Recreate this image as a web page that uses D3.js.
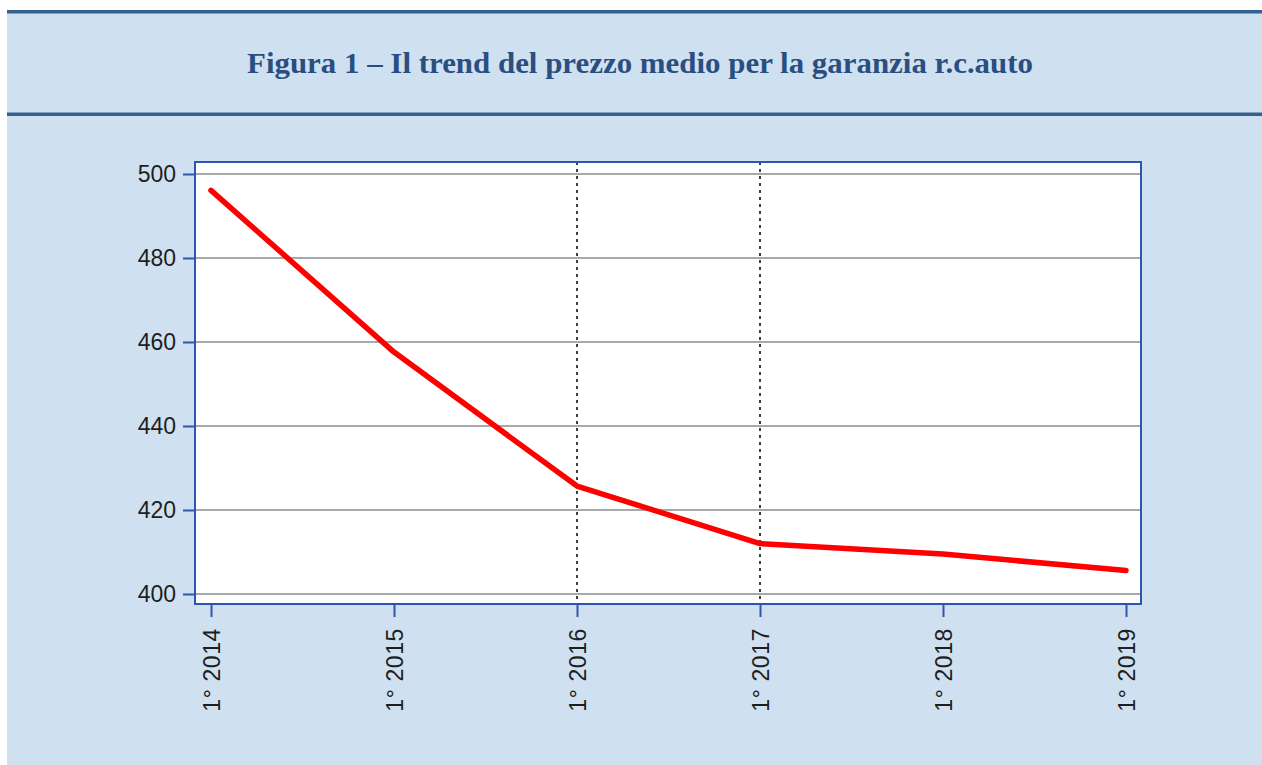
<!DOCTYPE html>
<html><head><meta charset="utf-8">
<script src="https://cdn.jsdelivr.net/npm/d3@7"></script>
<style>html,body{margin:0;padding:0;background:#fff;}svg{display:block;}</style>
</head><body>
<svg id="c" width="1262" height="765"></svg>
<script>
const categories = ["1° 2014","1° 2015","1° 2016","1° 2017","1° 2018","1° 2019"];
const values = [496.1, 457.6, 425.7, 412.0, 409.5, 405.6];
const yTicks = [400, 420, 440, 460, 480, 500];
const markers = ["1° 2016","1° 2017"];
const title = "Figura 1 – Il trend del prezzo medio per la garanzia r.c.auto";

const svg = d3.select("#c");
svg.append("rect").attr("x",7).attr("y",10).attr("width",1255).attr("height",755).attr("fill","#cfe1f0");
svg.append("rect").attr("x",7).attr("y",10).attr("width",1255).attr("height",3.5).attr("fill","#35618f");
svg.append("rect").attr("x",7).attr("y",112.5).attr("width",1255).attr("height",3.5).attr("fill","#35618f");
svg.append("text").attr("x",640).attr("y",73).attr("text-anchor","middle")
  .attr("font-family","'Liberation Serif','DejaVu Serif',serif").attr("font-weight","bold")
  .attr("font-size",29).attr("textLength",786).attr("lengthAdjust","spacingAndGlyphs")
  .attr("fill","#2a4e80").text(title);

const L=195, R=1141, T=162, B=604;
const x = d3.scalePoint().domain(categories).range([211,1126]);
const y = d3.scaleLinear().domain([400,500]).range([594,174]);

svg.append("rect").attr("x",L).attr("y",T).attr("width",R-L).attr("height",B-T).attr("fill","#fff");

const g = svg.append("g");
g.selectAll("line.grid").data(yTicks).join("line").attr("class","grid")
  .attr("x1",L).attr("x2",R).attr("y1",d=>y(d)).attr("y2",d=>y(d))
  .attr("stroke","#a9a9a9").attr("stroke-width",2);
g.selectAll("line.mk").data(markers).join("line").attr("class","mk")
  .attr("x1",d=>x(d)).attr("x2",d=>x(d)).attr("y1",T).attr("y2",B)
  .attr("stroke","#000").attr("stroke-width",1.5).attr("stroke-dasharray","3,4");

const line = d3.line().x((d,i)=>x(categories[i])).y(d=>y(d));
g.append("path").datum(values).attr("d",line).attr("fill","none")
  .attr("stroke","#ff0000").attr("stroke-width",5.5).attr("stroke-linejoin","round").attr("stroke-linecap","round");

svg.append("rect").attr("x",L).attr("y",T).attr("width",R-L).attr("height",B-T)
  .attr("fill","none").attr("stroke","#2f55b3").attr("stroke-width",2);

const yAxis = svg.append("g").attr("transform",`translate(${L},0)`)
  .call(d3.axisLeft(y).tickValues(yTicks).tickSize(12).tickPadding(7).tickSizeOuter(0));
yAxis.select(".domain").remove();
yAxis.selectAll(".tick line").attr("stroke","#2f55b3").attr("stroke-width",2);
yAxis.selectAll(".tick text").attr("font-family","'Liberation Sans',Arial,sans-serif").attr("font-size",23).attr("fill","#1e1e1e");

const xAxis = svg.append("g").attr("transform",`translate(0,${B})`)
  .call(d3.axisBottom(x).tickSize(13).tickSizeOuter(0));
xAxis.select(".domain").remove();
xAxis.selectAll(".tick line").attr("stroke","#2f55b3").attr("stroke-width",2);
xAxis.selectAll(".tick text").attr("font-family","'Liberation Sans',Arial,sans-serif").attr("font-size",23).attr("fill","#1e1e1e")
  .attr("letter-spacing",0.6)
  .attr("transform","rotate(-90)").attr("text-anchor","end").attr("x",-24).attr("y",0).attr("dy","0.35em");
</script>
</body></html>
